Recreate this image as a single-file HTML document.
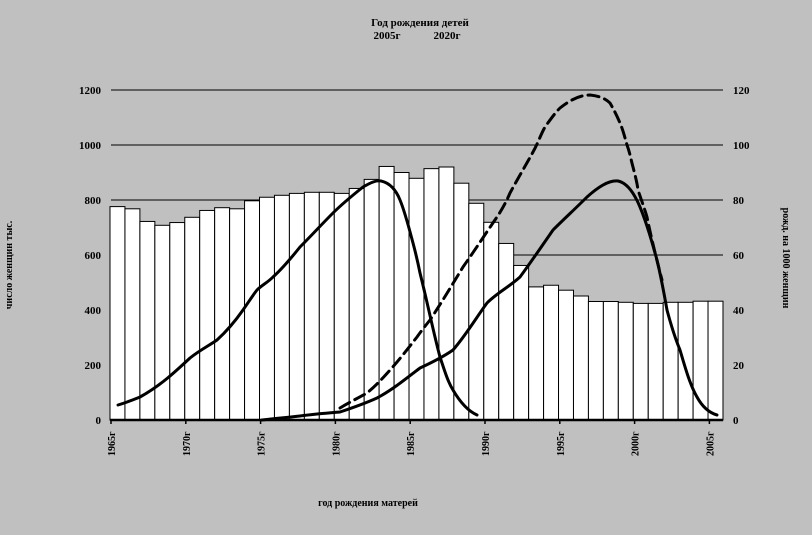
<!DOCTYPE html>
<html><head><meta charset="utf-8"><style>
html,body{margin:0;padding:0;background:#c0c0c0;}
svg{display:block;}
text{font-family:"Liberation Serif","DejaVu Serif",serif;font-weight:bold;fill:#000;}
</style></head><body>
<svg width="812" height="535" viewBox="0 0 812 535" xmlns="http://www.w3.org/2000/svg">
<rect width="812" height="535" fill="#c0c0c0"/>
<text x="420" y="26" font-size="11" text-anchor="middle">Год рождения детей</text>
<text x="387" y="39" font-size="11" text-anchor="middle">2005г</text>
<text x="447" y="39" font-size="11" text-anchor="middle">2020г</text>
<g stroke="#000" stroke-width="1">
<line x1="111" y1="90" x2="723" y2="90"/>
<line x1="111" y1="145" x2="723" y2="145"/>
<line x1="111" y1="200" x2="723" y2="200"/>
<line x1="111" y1="255" x2="723" y2="255"/>
<line x1="111" y1="310" x2="723" y2="310"/>
<line x1="111" y1="365" x2="723" y2="365"/>
</g>
<g fill="#fff" stroke="#000" stroke-width="1">
<rect x="110.00" y="206.6" width="14.95" height="213.4"/>
<rect x="124.95" y="208.8" width="14.95" height="211.2"/>
<rect x="139.90" y="221.45" width="14.95" height="198.55"/>
<rect x="154.85" y="225.3" width="14.95" height="194.7"/>
<rect x="169.80" y="222.55" width="14.95" height="197.45"/>
<rect x="184.76" y="217.3" width="14.95" height="202.7"/>
<rect x="199.71" y="210.45" width="14.95" height="209.55"/>
<rect x="214.66" y="207.7" width="14.95" height="212.3"/>
<rect x="229.61" y="208.8" width="14.95" height="211.2"/>
<rect x="244.56" y="200.8" width="14.95" height="219.2"/>
<rect x="259.51" y="197.25" width="14.95" height="222.75"/>
<rect x="274.46" y="195.3" width="14.95" height="224.7"/>
<rect x="289.41" y="193.4" width="14.95" height="226.6"/>
<rect x="304.36" y="192.3" width="14.95" height="227.7"/>
<rect x="319.31" y="192.3" width="14.95" height="227.7"/>
<rect x="334.27" y="193.4" width="14.95" height="226.6"/>
<rect x="349.22" y="188.45" width="14.95" height="231.55"/>
<rect x="364.17" y="179.4" width="14.95" height="240.6"/>
<rect x="379.12" y="166.45" width="14.95" height="253.55"/>
<rect x="394.07" y="172.5" width="14.95" height="247.5"/>
<rect x="409.02" y="178.3" width="14.95" height="241.7"/>
<rect x="423.97" y="168.65" width="14.95" height="251.35"/>
<rect x="438.92" y="167" width="14.95" height="253"/>
<rect x="453.87" y="183.2" width="14.95" height="236.8"/>
<rect x="468.82" y="203.3" width="14.95" height="216.7"/>
<rect x="483.78" y="222.3" width="14.95" height="197.7"/>
<rect x="498.73" y="243.45" width="14.95" height="176.55"/>
<rect x="513.68" y="265.45" width="14.95" height="154.55"/>
<rect x="528.63" y="286.9" width="14.95" height="133.1"/>
<rect x="543.58" y="285.25" width="14.95" height="134.75"/>
<rect x="558.53" y="290.2" width="14.95" height="129.8"/>
<rect x="573.48" y="296" width="14.95" height="124"/>
<rect x="588.43" y="301.5" width="14.95" height="118.5"/>
<rect x="603.38" y="301.5" width="14.95" height="118.5"/>
<rect x="618.33" y="302.3" width="14.95" height="117.7"/>
<rect x="633.29" y="303.4" width="14.95" height="116.6"/>
<rect x="648.24" y="303.4" width="14.95" height="116.6"/>
<rect x="663.19" y="302.3" width="14.95" height="117.7"/>
<rect x="678.14" y="302.3" width="14.95" height="117.7"/>
<rect x="693.09" y="301.2" width="14.95" height="118.8"/>
<rect x="708.04" y="301.2" width="14.95" height="118.8"/>
</g>
<line x1="110" y1="420" x2="723" y2="420" stroke="#000" stroke-width="2.5"/>
<g font-size="11">
<text x="101" y="94" text-anchor="end">1200</text>
<text x="101" y="149" text-anchor="end">1000</text>
<text x="101" y="204" text-anchor="end">800</text>
<text x="101" y="259" text-anchor="end">600</text>
<text x="101" y="314" text-anchor="end">400</text>
<text x="101" y="369" text-anchor="end">200</text>
<text x="101" y="424" text-anchor="end">0</text>
<text x="733" y="94">120</text>
<text x="733" y="149">100</text>
<text x="733" y="204">80</text>
<text x="733" y="259">60</text>
<text x="733" y="314">40</text>
<text x="733" y="369">20</text>
<text x="733" y="424">0</text>
</g>
<g stroke="#000" stroke-width="1.5">
<line x1="111" y1="420" x2="111" y2="424"/>
<line x1="185.8" y1="420" x2="185.8" y2="424"/>
<line x1="260.6" y1="420" x2="260.6" y2="424"/>
<line x1="335.4" y1="420" x2="335.4" y2="424"/>
<line x1="410.2" y1="420" x2="410.2" y2="424"/>
<line x1="485" y1="420" x2="485" y2="424"/>
<line x1="559.8" y1="420" x2="559.8" y2="424"/>
<line x1="634.6" y1="420" x2="634.6" y2="424"/>
<line x1="709.4" y1="420" x2="709.4" y2="424"/>
</g>
<g font-size="10">
<text transform="translate(115,456) rotate(-90)">1965г</text>
<text transform="translate(189.8,456) rotate(-90)">1970г</text>
<text transform="translate(264.6,456) rotate(-90)">1975г</text>
<text transform="translate(339.4,456) rotate(-90)">1980г</text>
<text transform="translate(414.2,456) rotate(-90)">1985г</text>
<text transform="translate(489,456) rotate(-90)">1990г</text>
<text transform="translate(563.8,456) rotate(-90)">1995г</text>
<text transform="translate(638.6,456) rotate(-90)">2000г</text>
<text transform="translate(713.4,456) rotate(-90)">2005г</text>
</g>
<text transform="translate(12,265) rotate(-90)" font-size="10" text-anchor="middle">число женщин тыс.</text>
<text transform="translate(783,258) rotate(90)" font-size="10" text-anchor="middle">рожд. на 1000 женщин</text>
<text x="368" y="506" font-size="10" text-anchor="middle">год рождения  матерей</text>
<g fill="none" stroke="#000" stroke-width="3" stroke-linecap="round" stroke-linejoin="round">
<path d="M118,405 C128,402 135,399 140,397 C160,386 175,372 190,358 C200,350 210,345 217,340 C228,330 236,320 243,310 C250,300 253,295 257,290 C262,285 267,283 273,277 C283,268 292,257 300,247 C311,236 322,224 333,213 C343,203 353,195 363,187 C370,183 376,180 381,181 C390,183 396,190 400,200 C405,212 409,228 413,243 C417,258 419,268 420,273 C428,305 434,335 440,357 C445,372 448,382 453,390 C460,402 468,411 477,415"/>
<path d="M262,420 C280,418 292,417 300,416 C315,414 328,413 340,412 C355,407 366,403 377,398 C392,390 407,378 420,368 C433,362 443,357 453,350 C466,335 476,318 487,303 C497,293 509,287 520,277 C531,262 542,246 553,230 C564,219 576,208 587,197 C597,188 608,180 618,181 C628,183 635,195 640,207 C647,224 652,242 657,260 C661,277 664,293 667,310 C671,325 675,338 680,350 C685,367 690,385 697,397 C703,408 710,413 717,415"/>
<path stroke-dasharray="11,6" d="M340,408 C350,402 358,398 367,393 C385,378 403,355 417,337 C422,330 426,325 430,320 C442,302 452,285 463,267 C475,250 486,233 497,217 C503,208 507,200 510,193 C518,178 526,165 533,152 C538,143 541,134 545,127 C550,120 555,113 560,108 C570,100 580,95 590,95 C600,96 606,99 610,103 C614,110 617,116 620,123 C623,130 625,138 627,145 C630,153 631,160 633,167 C635,175 637,182 638,190 C642,202 645,210 647,217 C651,237 656,257 662,280"/>
</g>
</svg>
</body></html>
